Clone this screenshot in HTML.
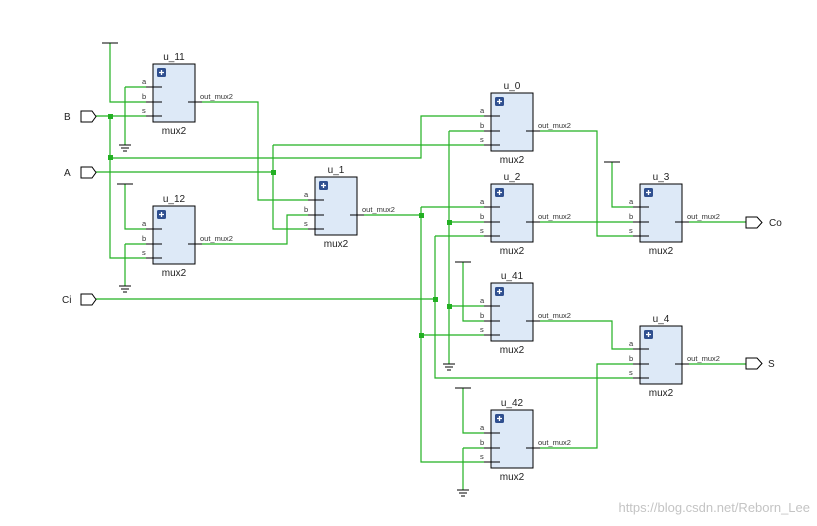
<!DOCTYPE html>
<html><head><meta charset="utf-8"><style>
html,body{margin:0;padding:0;background:#fff;}
svg{display:block;font-family:"Liberation Sans",sans-serif;}
.w{stroke:#22b022;stroke-width:1.2;fill:none;}
.k{stroke:#000;stroke-width:1;fill:none;}
.p{font-size:7.5px;fill:#333;}
.n{font-size:10px;fill:#222;text-anchor:middle;}
</style></head><body>
<svg width="817" height="526" viewBox="0 0 817 526">
<!-- wires -->
<g class="w">
<path d="M110,43V102H146"/>
<path d="M125,87H146M125,87V145"/>
<path d="M96,116H146"/>
<path d="M110,116V258H146"/>
<path d="M110,158H421V116H484"/>
<path d="M96,172H273"/>
<path d="M273,145H484M273,145V229H308"/>
<path d="M202,102H258V200H308"/>
<path d="M125,184V229H146"/>
<path d="M125,244H146M125,244V286"/>
<path d="M202,244H287V215H308"/>
<path d="M364,215H421"/>
<path d="M421,207H484M421,207V462H484M421,335H484"/>
<path d="M449,131H484M449,131V364M449,222H484M449,306H484"/>
<path d="M96,299H435"/>
<path d="M435,236H484M435,236V378H633"/>
<path d="M463,262V321H484"/>
<path d="M463,388V433H484"/>
<path d="M463,448H484M463,448V490"/>
<path d="M540,131H597V236H633"/>
<path d="M540,222H633"/>
<path d="M612,162V207H633"/>
<path d="M689,222H746"/>
<path d="M540,321H612V349H633"/>
<path d="M540,448H597V364H633"/>
<path d="M689,364H746"/>
</g>
<!-- junctions -->
<g fill="#22b022">
<rect x="108" y="114" width="5" height="5"/>
<rect x="108" y="155" width="5" height="5"/>
<rect x="271" y="170" width="5" height="5"/>
<rect x="419" y="213" width="5" height="5"/>
<rect x="419" y="333" width="5" height="5"/>
<rect x="447" y="220" width="5" height="5"/>
<rect x="447" y="304" width="5" height="5"/>
<rect x="433" y="297" width="5" height="5"/>
</g>
<!-- VCC / GND -->
<g class="k">
<path d="M102,43H118"/><path d="M117,184H133"/><path d="M604,162H620"/><path d="M455,262H471"/><path d="M455,388H471"/>
<path d="M119,145H131M121,148H129M123,151H127"/>
<path d="M119,286H131M121,289H129M123,292H127"/>
<path d="M443,364H455M445,367H453M447,370H451"/>
<path d="M457,490H469M459,493H467M461,496H465"/>
</g>
<!-- ports -->
<g stroke="#000" fill="#fff">
<path d="M81,111H92L96,116.5L92,122H81Z"/>
<path d="M81,167H92L96,172.5L92,178H81Z"/>
<path d="M81,294H92L96,299.5L92,305H81Z"/>
<path d="M746,217H757L762,222.5L757,228H746Z"/>
<path d="M746,358H757L762,363.5L757,369H746Z"/>
</g>
<g font-size="10" fill="#222">
<text x="64" y="120">B</text><text x="64" y="176">A</text><text x="62" y="303">Ci</text>
<text x="769" y="226">Co</text><text x="768" y="367">S</text>
</g>
<!-- blocks -->
<g id="blocks">
<g transform="translate(153,64)"><rect width="42" height="58" fill="#dde9f7" stroke="#000"/><rect x="4" y="4" width="9" height="9" rx="1.5" fill="#2f4f8f"/><path d="M8.5,6V11M6,8.5H11" stroke="#fff" stroke-width="1.3"/><path d="M-7,23H9M-7,38H9M-7,52H9M35,38H49" stroke="#000"/><text class="p" x="-11" y="20">a</text><text class="p" x="-11" y="35">b</text><text class="p" x="-11" y="49">s</text><text class="p" x="47" y="35">out_mux2</text><text class="n" x="21" y="-4">u_11</text><text class="n" x="21" y="70">mux2</text></g>
<g transform="translate(153,206)"><rect width="42" height="58" fill="#dde9f7" stroke="#000"/><rect x="4" y="4" width="9" height="9" rx="1.5" fill="#2f4f8f"/><path d="M8.5,6V11M6,8.5H11" stroke="#fff" stroke-width="1.3"/><path d="M-7,23H9M-7,38H9M-7,52H9M35,38H49" stroke="#000"/><text class="p" x="-11" y="20">a</text><text class="p" x="-11" y="35">b</text><text class="p" x="-11" y="49">s</text><text class="p" x="47" y="35">out_mux2</text><text class="n" x="21" y="-4">u_12</text><text class="n" x="21" y="70">mux2</text></g>
<g transform="translate(315,177)"><rect width="42" height="58" fill="#dde9f7" stroke="#000"/><rect x="4" y="4" width="9" height="9" rx="1.5" fill="#2f4f8f"/><path d="M8.5,6V11M6,8.5H11" stroke="#fff" stroke-width="1.3"/><path d="M-7,23H9M-7,38H9M-7,52H9M35,38H49" stroke="#000"/><text class="p" x="-11" y="20">a</text><text class="p" x="-11" y="35">b</text><text class="p" x="-11" y="49">s</text><text class="p" x="47" y="35">out_mux2</text><text class="n" x="21" y="-4">u_1</text><text class="n" x="21" y="70">mux2</text></g>
<g transform="translate(491,93)"><rect width="42" height="58" fill="#dde9f7" stroke="#000"/><rect x="4" y="4" width="9" height="9" rx="1.5" fill="#2f4f8f"/><path d="M8.5,6V11M6,8.5H11" stroke="#fff" stroke-width="1.3"/><path d="M-7,23H9M-7,38H9M-7,52H9M35,38H49" stroke="#000"/><text class="p" x="-11" y="20">a</text><text class="p" x="-11" y="35">b</text><text class="p" x="-11" y="49">s</text><text class="p" x="47" y="35">out_mux2</text><text class="n" x="21" y="-4">u_0</text><text class="n" x="21" y="70">mux2</text></g>
<g transform="translate(491,184)"><rect width="42" height="58" fill="#dde9f7" stroke="#000"/><rect x="4" y="4" width="9" height="9" rx="1.5" fill="#2f4f8f"/><path d="M8.5,6V11M6,8.5H11" stroke="#fff" stroke-width="1.3"/><path d="M-7,23H9M-7,38H9M-7,52H9M35,38H49" stroke="#000"/><text class="p" x="-11" y="20">a</text><text class="p" x="-11" y="35">b</text><text class="p" x="-11" y="49">s</text><text class="p" x="47" y="35">out_mux2</text><text class="n" x="21" y="-4">u_2</text><text class="n" x="21" y="70">mux2</text></g>
<g transform="translate(491,283)"><rect width="42" height="58" fill="#dde9f7" stroke="#000"/><rect x="4" y="4" width="9" height="9" rx="1.5" fill="#2f4f8f"/><path d="M8.5,6V11M6,8.5H11" stroke="#fff" stroke-width="1.3"/><path d="M-7,23H9M-7,38H9M-7,52H9M35,38H49" stroke="#000"/><text class="p" x="-11" y="20">a</text><text class="p" x="-11" y="35">b</text><text class="p" x="-11" y="49">s</text><text class="p" x="47" y="35">out_mux2</text><text class="n" x="21" y="-4">u_41</text><text class="n" x="21" y="70">mux2</text></g>
<g transform="translate(491,410)"><rect width="42" height="58" fill="#dde9f7" stroke="#000"/><rect x="4" y="4" width="9" height="9" rx="1.5" fill="#2f4f8f"/><path d="M8.5,6V11M6,8.5H11" stroke="#fff" stroke-width="1.3"/><path d="M-7,23H9M-7,38H9M-7,52H9M35,38H49" stroke="#000"/><text class="p" x="-11" y="20">a</text><text class="p" x="-11" y="35">b</text><text class="p" x="-11" y="49">s</text><text class="p" x="47" y="35">out_mux2</text><text class="n" x="21" y="-4">u_42</text><text class="n" x="21" y="70">mux2</text></g>
<g transform="translate(640,184)"><rect width="42" height="58" fill="#dde9f7" stroke="#000"/><rect x="4" y="4" width="9" height="9" rx="1.5" fill="#2f4f8f"/><path d="M8.5,6V11M6,8.5H11" stroke="#fff" stroke-width="1.3"/><path d="M-7,23H9M-7,38H9M-7,52H9M35,38H49" stroke="#000"/><text class="p" x="-11" y="20">a</text><text class="p" x="-11" y="35">b</text><text class="p" x="-11" y="49">s</text><text class="p" x="47" y="35">out_mux2</text><text class="n" x="21" y="-4">u_3</text><text class="n" x="21" y="70">mux2</text></g>
<g transform="translate(640,326)"><rect width="42" height="58" fill="#dde9f7" stroke="#000"/><rect x="4" y="4" width="9" height="9" rx="1.5" fill="#2f4f8f"/><path d="M8.5,6V11M6,8.5H11" stroke="#fff" stroke-width="1.3"/><path d="M-7,23H9M-7,38H9M-7,52H9M35,38H49" stroke="#000"/><text class="p" x="-11" y="20">a</text><text class="p" x="-11" y="35">b</text><text class="p" x="-11" y="49">s</text><text class="p" x="47" y="35">out_mux2</text><text class="n" x="21" y="-4">u_4</text><text class="n" x="21" y="70">mux2</text></g>
</g>
<text x="810" y="512" text-anchor="end" font-size="13" fill="#c4c4c4">https://blog.csdn.net/Reborn_Lee</text>
</svg>
</body></html>
